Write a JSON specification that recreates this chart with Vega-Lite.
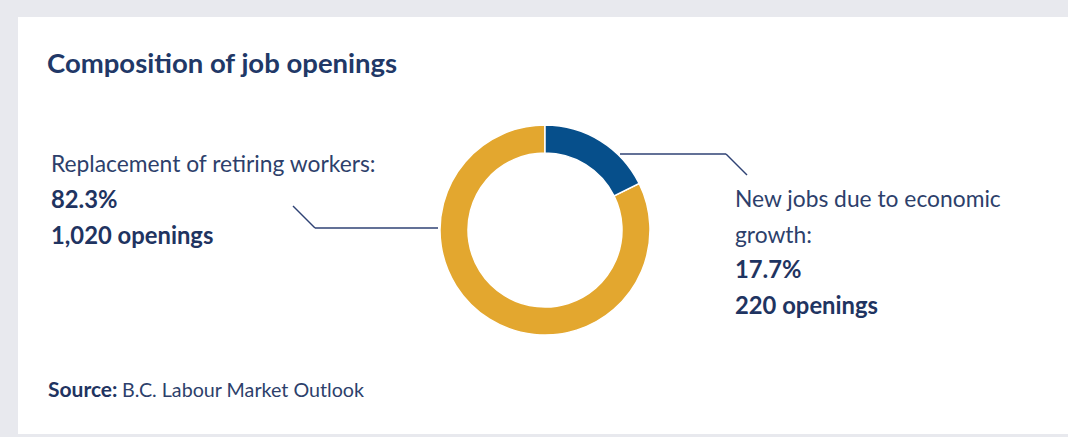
{
  "$schema": "https://vega.github.io/schema/vega-lite/v6.json",
  "width": 1068,
  "height": 437,
  "autosize": {"type": "fit", "contains": "padding"},
  "padding": {"top": 17, "left": 18, "right": 0, "bottom": 3},
  "background": "#e8e9ee",
  "config": {"view": {"fill": "white", "stroke": null}},
  "title": {
    "text": "Composition of job openings",
    "anchor": "start",
    "frame": "group",
    "font": "Lato",
    "fontSize": 27.5,
    "fontWeight": "bold",
    "color": "#213867",
    "baseline": "alphabetic",
    "dx": 29,
    "offset": -83
  },
  "data": {
    "values": [
      {"category": "Replacement of retiring workers", "share": 82.3, "openings": 1020},
      {"category": "New jobs due to economic growth", "share": 17.7, "openings": 220}
    ]
  },
  "layer": [
    {
      "mark": {"type": "arc", "radius": 105, "radius2": 77, "stroke": "white", "strokeWidth": 1.5, "xOffset": 2, "yOffset": 4.5},
      "encoding": {
        "theta": {"field": "share", "type": "quantitative", "stack": true},
        "order": {"field": "share", "type": "quantitative", "sort": "ascending"},
        "color": {
          "field": "category",
          "type": "nominal",
          "scale": {"domain": ["Replacement of retiring workers", "New jobs due to economic growth"], "range": ["#e3a72f", "#064f8b"]},
          "legend": null
        }
      }
    },
    {
      "transform": [{"calculate": "replace(datum.category, 'economic ', 'economic\\n') + ':'", "as": "label"}],
      "mark": {"type": "text", "align": "left", "baseline": "alphabetic", "lineBreak": "\n", "lineHeight": 35.5, "font": "Lato", "fontSize": 22.8, "color": "#2d3f6b"},
      "encoding": {
        "x": {"field": "category", "type": "nominal", "axis": null, "scale": {"type": "point", "domain": ["Replacement of retiring workers", "New jobs due to economic growth"], "range": [33, 717], "padding": 0}},
        "y": {"field": "category", "type": "nominal", "axis": null, "scale": {"type": "point", "domain": ["Replacement of retiring workers", "New jobs due to economic growth"], "range": [155, 190], "padding": 0}},
        "text": {"field": "label", "type": "nominal"}
      }
    },
    {
      "transform": [{"calculate": "format(datum.share, '.1f') + '%\\n' + format(datum.openings, ',') + ' openings'", "as": "figures"}],
      "mark": {"type": "text", "align": "left", "baseline": "alphabetic", "lineBreak": "\n", "lineHeight": 35.5, "font": "Lato", "fontSize": 23.8, "fontWeight": "bold", "color": "#1f3461"},
      "encoding": {
        "x": {"field": "category", "type": "nominal", "axis": null, "scale": {"type": "point", "domain": ["Replacement of retiring workers", "New jobs due to economic growth"], "range": [33, 717], "padding": 0}},
        "y": {"field": "category", "type": "nominal", "axis": null, "scale": {"type": "point", "domain": ["Replacement of retiring workers", "New jobs due to economic growth"], "range": [191, 261], "padding": 0}},
        "text": {"field": "figures", "type": "nominal"}
      }
    },
    {
      "data": {"values": [{}]},
      "mark": {"type": "rule", "color": "#2f4274", "strokeWidth": 1.4},
      "encoding": {"x": {"value": 602}, "y": {"value": 137}, "x2": {"value": 708}, "y2": {"value": 137}}
    },
    {
      "data": {"values": [{}]},
      "mark": {"type": "rule", "color": "#2f4274", "strokeWidth": 1.4},
      "encoding": {"x": {"value": 708}, "y": {"value": 137}, "x2": {"value": 729}, "y2": {"value": 158}}
    },
    {
      "data": {"values": [{}]},
      "mark": {"type": "rule", "color": "#2f4274", "strokeWidth": 1.4},
      "encoding": {"x": {"value": 420}, "y": {"value": 211}, "x2": {"value": 297}, "y2": {"value": 211}}
    },
    {
      "data": {"values": [{}]},
      "mark": {"type": "rule", "color": "#2f4274", "strokeWidth": 1.4},
      "encoding": {"x": {"value": 297}, "y": {"value": 211}, "x2": {"value": 275}, "y2": {"value": 189}}
    },
    {
      "data": {"values": [{}]},
      "mark": {"type": "text", "text": "Source:", "align": "left", "baseline": "alphabetic", "font": "Lato", "fontSize": 21, "fontWeight": "bold", "color": "#1f3461"},
      "encoding": {"x": {"value": 30}, "y": {"value": 380}}
    },
    {
      "data": {"values": [{}]},
      "mark": {"type": "text", "text": "B.C. Labour Market Outlook", "align": "left", "baseline": "alphabetic", "font": "Lato", "fontSize": 19.7, "color": "#2d3f6b"},
      "encoding": {"x": {"value": 104}, "y": {"value": 380}}
    }
  ],
  "resolve": {"scale": {"x": "independent", "y": "independent"}}
}
